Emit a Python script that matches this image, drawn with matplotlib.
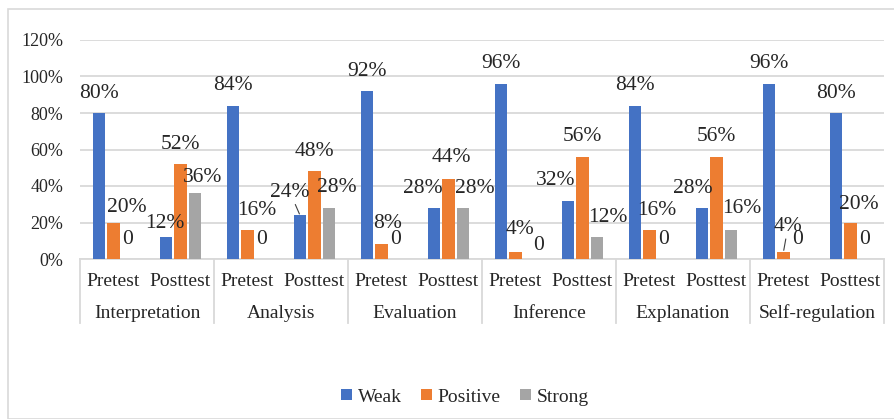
import matplotlib
matplotlib.use("Agg")
import matplotlib.pyplot as plt
import matplotlib.transforms as mtransforms
from matplotlib.patches import Rectangle, Patch
from matplotlib.lines import Line2D
import numpy as np

skills = ["Interpretation", "Analysis", "Evaluation", "Inference", "Explanation", "Self-regulation"]
tests = ["Pretest", "Posttest"]
series_names = ["Weak", "Positive", "Strong"]
weak = [80, 12, 84, 24, 92, 28, 96, 32, 84, 28, 96, 80]
positive = [20, 52, 16, 48, 8, 44, 4, 56, 16, 56, 4, 20]
strong = [0, 36, 0, 28, 0, 28, 0, 12, 0, 16, 0, 0]
yticks = [0, 20, 40, 60, 80, 100, 120]

colors = ["#4472C4", "#ED7D31", "#A5A5A5"]
grid_c = "#D9D9D9"
FONT = "Liberation Serif"
plt.rcParams["font.family"] = [FONT, "DejaVu Serif"]

# label offsets in pixels (dx, dy) from bar top; default (0, 20)
offsets = {
    (0, 1): (13.5, 15.5), (1, 0): (-1, 14), (1, 2): (8, 16),
    (2, 1): (9.5, 19), (3, 0): (-10, 23), (3, 2): (8, 20),
    (4, 1): (6.5, 21), (5, 0): (-11, 19), (5, 1): (3, 21), (5, 2): (12, 19),
    (6, 1): (4.5, 22), (6, 2): (9, 14), (7, 0): (-12, 20), (7, 2): (11, 20),
    (8, 1): (7.5, 19), (9, 0): (-9, 19), (9, 2): (11, 21),
    (10, 1): (4.5, 25), (11, 1): (8.5, 18.5),
}
leaders = {(3, 0), (10, 1)}

W, H = 894, 419
fig = plt.figure(figsize=(W / 100, H / 100), dpi=100)
fig.patches.append(Rectangle((7.5 / W, 0), 2, 1 - 9 / H, transform=fig.transFigure,
                             fill=False, edgecolor="#D9D9D9", linewidth=1.2))
ax = fig.add_axes([80 / W, (H - 259) / H, 804 / W, 219 / H])

n = len(weak)
x = np.arange(n)
bw = 0.18
step = 0.217
data = [weak, positive, strong]
for s, vals in enumerate(data):
    ax.bar(x + (s - 1) * step, np.array(vals) / 100.0, width=bw, color=colors[s], zorder=3)

for s, vals in enumerate(data):
    for i, v in enumerate(vals):
        dx, dy = offsets.get((i, s), (0, 20))
        txt = f"{v}%" if v != 0 else "0"
        xb = x[i] + (s - 1) * step
        yb = v / 100.0
        kw = {}
        if (i, s) in leaders:
            kw["arrowprops"] = dict(arrowstyle="-", color="#404040", lw=0.8,
                                    shrinkA=0, shrinkB=1)
        ax.annotate(txt, (xb, yb), xytext=(dx, dy), textcoords="offset pixels",
                    ha="center", va="center", fontsize=15.5, family=FONT,
                    color="#262626", zorder=4, **kw)

ax.set_xlim(-0.5, n - 0.5)
ax.set_ylim(0, 1.2)
ax.set_yticks([t / 100 for t in yticks])
ax.set_yticklabels([f"{t}%" for t in yticks], family=FONT, fontsize=13, color="#262626")
ax.tick_params(axis="y", length=0, pad=12)
ax.set_xticks([])
ax.grid(axis="y", color=grid_c, linewidth=1.3, zorder=0)
for sp in ["left", "right", "top"]:
    ax.spines[sp].set_visible(False)
ax.spines["bottom"].set_color(grid_c)
ax.spines["bottom"].set_linewidth(1.3)

trans = mtransforms.blended_transform_factory(ax.transData, ax.transAxes)
for i in range(n):
    ax.text(x[i], -23 / 219, tests[i % 2], transform=trans, ha="center", va="center",
            family=FONT, fontsize=14, color="#262626")
for g, name in enumerate(skills):
    ax.text(2 * g + 0.5, -54 / 219, name, transform=trans, ha="center", va="center",
            family=FONT, fontsize=14, color="#262626")
for b in np.arange(-0.5, n, 2):
    ax.add_line(Line2D([b, b], [0, -64 / 219], transform=trans, color=grid_c,
                       linewidth=1.3, clip_on=False))

handles = [Patch(facecolor=c, edgecolor="none") for c in colors]
leg = fig.legend(handles, series_names, loc="center", bbox_to_anchor=(465 / W, 1 - 397 / H),
                 ncol=3, frameon=False, fontsize=14,
                 handlelength=0.55, handleheight=0.55, handletextpad=0.3, columnspacing=1.0)
for t in leg.get_texts():
    t.set_fontfamily(FONT)
    t.set_fontsize(14)
    t.set_color("#262626")

fig.savefig("out.png", dpi=100)
